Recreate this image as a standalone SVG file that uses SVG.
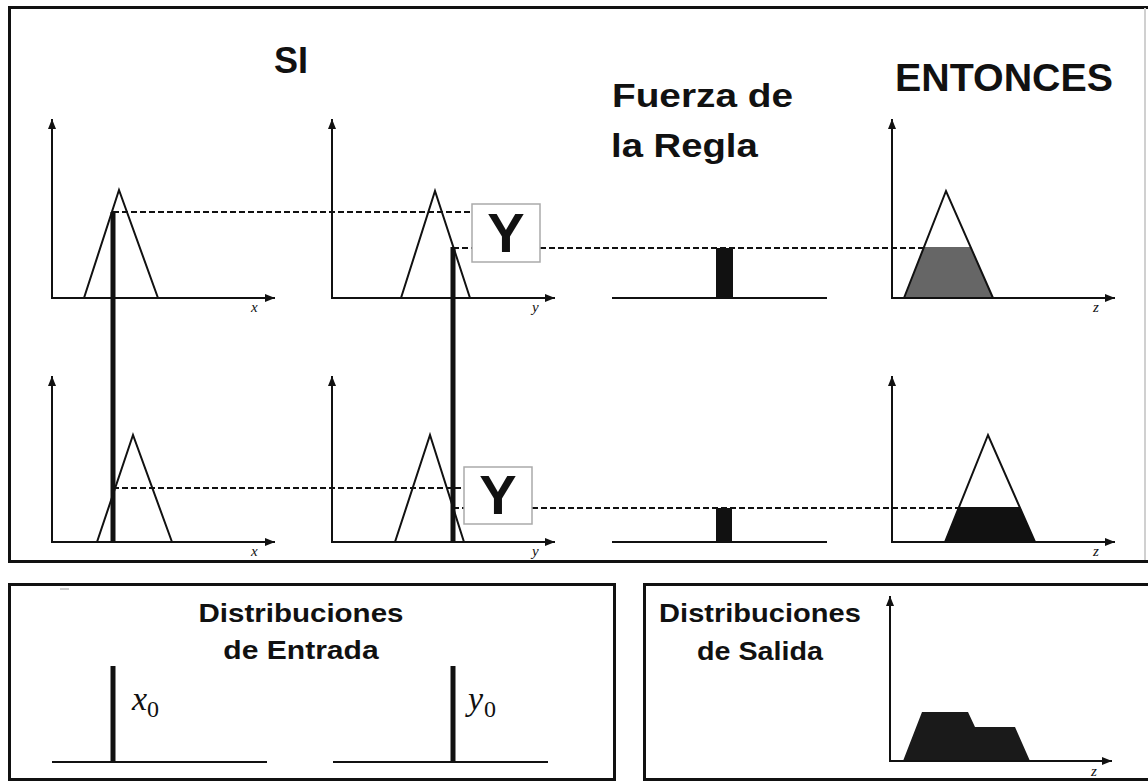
<svg xmlns="http://www.w3.org/2000/svg" width="1148" height="782" viewBox="0 0 1148 782">
<style>
.frame{fill:none;stroke:#111;stroke-width:3}
.axis{fill:none;stroke:#111;stroke-width:2;marker-start:url(#ah);marker-end:url(#ah)}
.mf{fill:none;stroke:#111;stroke-width:2;stroke-linejoin:miter}
.thick{stroke:#111;stroke-width:5}
.dash{stroke:#111;stroke-width:2;stroke-dasharray:6,3;fill:none}
.base{stroke:#111;stroke-width:2}
.title{font-family:"Liberation Sans",Arial,sans-serif;font-weight:bold;fill:#111}
.mid{text-anchor:middle}
.ax{font-family:"Liberation Serif","Times New Roman",serif;font-style:italic;font-size:15px;fill:#111}
.ybox{fill:#fff;stroke:#aaa;stroke-width:1.5}
.ytxt{font-family:"Liberation Sans",Arial,sans-serif;font-weight:bold;font-size:56px;fill:#111;text-anchor:middle}
.serif{font-family:"Liberation Serif","Times New Roman",serif;fill:#111}
</style>
<defs>
<marker id="ah" viewBox="0 0 10 8" refX="10" refY="4" markerWidth="10" markerHeight="8" markerUnits="userSpaceOnUse" orient="auto-start-reverse"><path d="M0,0 L10,4 L0,8 z" fill="#111"/></marker>
</defs>
<rect width="1148" height="782" fill="#fff"/>

<g id="rules-frame">
<path class="frame" d="M1150,7.5 H9.5 V561.5 H1150"/>
<line x1="1145" y1="8" x2="1145" y2="560" stroke="#d0d0d0" stroke-width="2"/>
</g>

<g id="titles">
<text class="title" x="274" y="73" font-size="36">SI</text>
<text class="title" transform="translate(612,107) scale(1.175,1)" x="0" y="0" font-size="33">Fuerza de</text>
<text class="title" transform="translate(611,157) scale(1.16,1)" x="0" y="0" font-size="33">la Regla</text>
<text class="title" x="895" y="91" font-size="39" textLength="218" lengthAdjust="spacingAndGlyphs">ENTONCES</text>
</g>

<g id="connectors">
<line class="thick" x1="113" y1="212" x2="113" y2="542"/>
<line class="thick" x1="453" y1="247" x2="453" y2="542"/>
<line class="dash" x1="113" y1="212" x2="472" y2="212"/>
<line class="dash" x1="453" y1="248" x2="472" y2="248"/>
<line class="dash" x1="540" y1="248" x2="924" y2="248"/>
<line class="dash" x1="113" y1="488" x2="464" y2="488"/>
<line class="dash" x1="453" y1="508" x2="464" y2="508"/>
<line class="dash" x1="532" y1="508" x2="959" y2="508"/>
</g>

<g id="plot-x-1">
<path class="axis" d="M52,119 V298 H275"/>
<path class="mf" d="M84,298 L119,190 L158,298"/>
<text class="ax" x="251" y="312">x</text>
</g>
<g id="plot-y-1">
<path class="axis" d="M332,119 V298 H555"/>
<path class="mf" d="M401,298 L435,191 L470,298"/>
<text class="ax" x="532" y="312">y</text>
</g>
<g id="and-1">
<rect class="ybox" x="472" y="204" width="68" height="58"/>
<text class="ytxt" x="506" y="252">Y</text>
</g>
<g id="strength-1">
<line class="base" x1="612" y1="298" x2="827" y2="298"/>
<rect x="716" y="248" width="17" height="51" fill="#111"/>
</g>
<g id="plot-z-1">
<polygon points="904,298 924,247 971,247 993,298" fill="#666"/>
<path class="axis" d="M892,119 V298 H1115"/>
<path class="mf" d="M904,298 L946,191 L993,298"/>
<text class="ax" x="1093" y="312">z</text>
</g>

<g id="plot-x-2">
<path class="axis" d="M52,376 V542 H275"/>
<path class="mf" d="M97,542 L133,435 L172,542"/>
<text class="ax" x="251" y="556">x</text>
</g>
<g id="plot-y-2">
<path class="axis" d="M332,376 V542 H555"/>
<path class="mf" d="M395,542 L430,435 L464,542"/>
<text class="ax" x="532" y="556">y</text>
</g>
<g id="and-2">
<rect class="ybox" x="464" y="467" width="68" height="57"/>
<text class="ytxt" x="498" y="514">Y</text>
</g>
<g id="strength-2">
<line class="base" x1="612" y1="542" x2="827" y2="542"/>
<rect x="716" y="508" width="16" height="35" fill="#111"/>
</g>
<g id="plot-z-2">
<polygon points="945,542 959,507 1020,507 1035,542" fill="#111"/>
<path class="axis" d="M892,376 V542 H1115"/>
<path class="mf" d="M945,542 L988,435 L1035,542"/>
<text class="ax" x="1093" y="556">z</text>
</g>

<g id="input-distributions">
<rect class="frame" x="9.5" y="584.5" width="605" height="195"/>
<line x1="60" y1="589" x2="69" y2="589" stroke="#999" stroke-width="1"/>
<text class="title mid" transform="translate(301,622) scale(1.135,1)" x="0" y="0" font-size="26">Distribuciones</text>
<text class="title mid" transform="translate(301,659) scale(1.156,1)" x="0" y="0" font-size="26">de Entrada</text>
<line class="base" x1="52" y1="762" x2="267" y2="762" stroke-width="3"/>
<line class="thick" x1="113" y1="666" x2="113" y2="762"/>
<text class="serif" x="132" y="710" font-style="italic" font-size="34">x</text>
<text class="serif" x="147" y="717" font-size="24">0</text>
<line class="base" x1="333" y1="762" x2="548" y2="762" stroke-width="3"/>
<line class="thick" x1="453" y1="666" x2="453" y2="762"/>
<text class="serif" x="468" y="710" font-style="italic" font-size="34">y</text>
<text class="serif" x="484" y="717" font-size="24">0</text>
</g>

<g id="output-distribution">
<path class="frame" d="M1150,584.5 H644.5 V779.5 H1150"/>
<text class="title mid" transform="translate(760,622) scale(1.118,1)" x="0" y="0" font-size="26">Distribuciones</text>
<text class="title mid" transform="translate(760,660) scale(1.105,1)" x="0" y="0" font-size="26">de Salida</text>
<polygon points="903,761 922,712 968,712 975,727 1015,727 1030,761" fill="#1a1a1a"/>
<path class="axis" d="M890,596 V761 H1112"/>
<text class="ax" x="1091" y="776">z</text>
</g>
</svg>
